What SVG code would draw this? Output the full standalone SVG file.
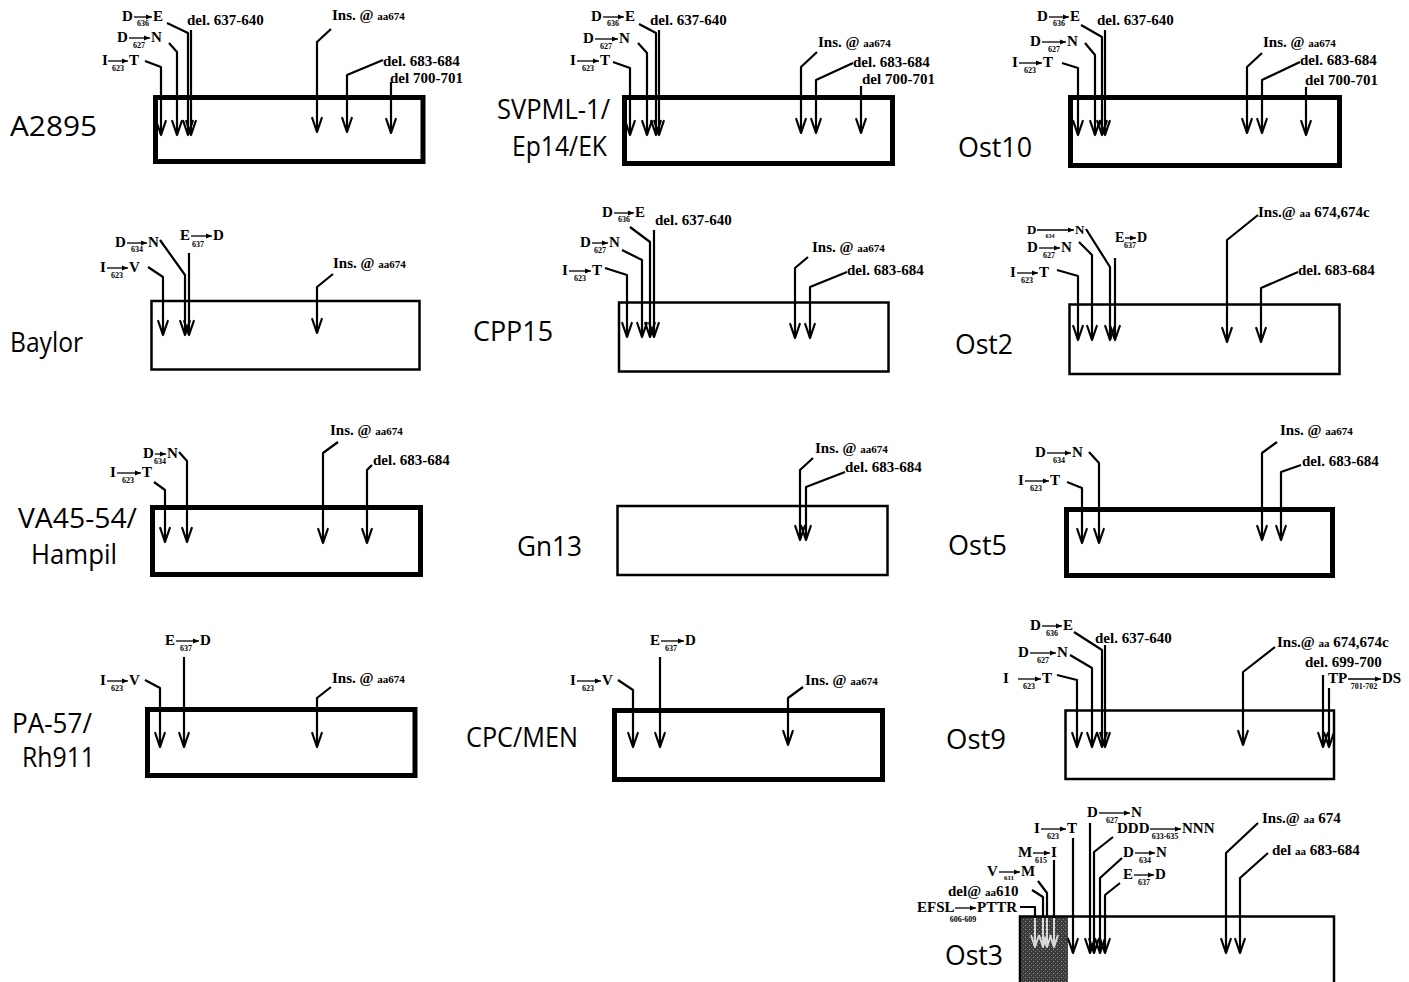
<svg xmlns="http://www.w3.org/2000/svg" width="1409" height="982" viewBox="0 0 1409 982">
<style>
text{font-family:"Liberation Serif","Times New Roman",serif;font-weight:bold;font-size:15px;fill:#000}
.s{font-size:8px;text-anchor:middle}
.sm{font-size:11px}
.lab{font-family:"Open Sans","DejaVu Sans",sans-serif;font-weight:normal;font-size:28px}
.bx{fill:none;stroke:#000}
.tk{stroke-width:5}
.tn{stroke-width:2.5}
.c{fill:none;stroke:#000;stroke-width:2.2;stroke-linejoin:round;marker-end:url(#ah)}
.cl{fill:none;stroke:#d8d8d8;stroke-width:2;marker-end:url(#ahl)}
.cb{fill:none;stroke:#000;stroke-width:2.2;stroke-linejoin:round}
.sa{fill:none;stroke:#000;stroke-width:1.3;marker-end:url(#sa)}
</style>
<defs>
<marker id="ah" markerUnits="userSpaceOnUse" markerWidth="18" markerHeight="14" viewBox="-16 -7 18 14" refX="0" refY="0" orient="auto"><path d="M-14,-4.8 L0,0 L-14,4.8" fill="none" stroke="#000" stroke-width="2.2" stroke-linejoin="round" stroke-linecap="round"/></marker>
<marker id="ahl" markerUnits="userSpaceOnUse" markerWidth="18" markerHeight="14" viewBox="-16 -7 18 14" refX="0" refY="0" orient="auto"><path d="M-12,-4 L0,0 L-12,4" fill="none" stroke="#d8d8d8" stroke-width="2" stroke-linejoin="round"/></marker>
<marker id="sa" markerUnits="userSpaceOnUse" markerWidth="8" markerHeight="6" viewBox="0 -3 6 6" refX="6" refY="0" orient="auto"><path d="M0,-2.5 L6,0 L0,2.5z" fill="#000"/></marker>
<pattern id="stip" width="4" height="4" patternUnits="userSpaceOnUse"><rect width="4" height="4" fill="#3c3c3c"/><rect x="1" y="1" width="1" height="1" fill="#9a9a9a"/><rect x="3" y="3" width="1" height="1" fill="#777"/></pattern>
</defs>
<rect width="1409" height="982" fill="#fff"/>

<g id="A2895">
<rect class="bx tk" x="155.5" y="97.5" width="267.5" height="64"/>
<text class="lab" x="10" y="136" textLength="87" lengthAdjust="spacingAndGlyphs">A2895</text>
<text x="122" y="21">D</text><text class="s" x="143" y="26">636</text><path class="sa" d="M134,17H152"/><text x="153" y="21">E</text>
<text x="117" y="42">D</text><text class="s" x="139" y="48">627</text><path class="sa" d="M129,38H150"/><text x="151" y="42">N</text>
<text x="102" y="65">I</text><text class="s" x="118" y="71">623</text><path class="sa" d="M108,61H128"/><text x="129" y="65">T</text>
<text x="187" y="25">del. 637-640</text>
<text x="332" y="20">Ins. @ <tspan class="sm">aa674</tspan></text>
<text x="383" y="66">del. 683-684</text>
<text x="390" y="83">del 700-701</text>
</g>

<g id="SVPML-1">
<rect class="bx tk" x="624.5" y="97.5" width="268" height="66"/>
<text class="lab" x="497" y="119" style="font-size:27px" textLength="113" lengthAdjust="spacingAndGlyphs">SVPML-1/</text>
<text class="lab" x="512" y="156" style="font-size:27px" textLength="95" lengthAdjust="spacingAndGlyphs">Ep14/EK</text>
<text x="591" y="21">D</text><text class="s" x="613" y="26">636</text><path class="sa" d="M603,17H624"/><text x="625" y="21">E</text>
<text x="583" y="43">D</text><text class="s" x="606" y="49">627</text><path class="sa" d="M595,39H618"/><text x="619" y="43">N</text>
<text x="570" y="65">I</text><text class="s" x="588" y="71">623</text><path class="sa" d="M577,61H599"/><text x="600" y="65">T</text>
<text x="650" y="25">del. 637-640</text>
<text x="818" y="47">Ins. @ <tspan class="sm">aa674</tspan></text>
<text x="853" y="67">del. 683-684</text>
<text x="862" y="84">del 700-701</text>
</g>

<g id="Ost10">
<rect class="bx tk" x="1070.5" y="97.5" width="269" height="68"/>
<text class="lab" x="958" y="157" textLength="74" lengthAdjust="spacingAndGlyphs">Ost10</text>
<text x="1037" y="21">D</text><text class="s" x="1059" y="26">636</text><path class="sa" d="M1049,17H1069"/><text x="1070" y="21">E</text>
<text x="1030" y="46">D</text><text class="s" x="1054" y="52">627</text><path class="sa" d="M1042,42H1066"/><text x="1067" y="46">N</text>
<text x="1012" y="67">I</text><text class="s" x="1030" y="73">623</text><path class="sa" d="M1019,63H1042"/><text x="1043" y="67">T</text>
<text x="1097" y="25">del. 637-640</text>
<text x="1263" y="47">Ins. @ <tspan class="sm">aa674</tspan></text>
<text x="1300" y="65">del. 683-684</text>
<text x="1305" y="85">del 700-701</text>
</g>

<g id="Baylor">
<rect class="bx tn" x="151.5" y="301" width="268" height="68.5"/>
<text class="lab" x="10" y="352" textLength="73" lengthAdjust="spacingAndGlyphs">Baylor</text>
<text x="115" y="247">D</text><text class="s" x="137" y="252">634</text><path class="sa" d="M127,243H147"/><text x="148" y="247">N</text>
<text x="180" y="240">E</text><text class="s" x="198" y="247">637</text><path class="sa" d="M191,236H212"/><text x="213" y="240">D</text>
<text x="100" y="272">I</text><text class="s" x="117" y="278">623</text><path class="sa" d="M107,268H128"/><text x="129" y="272">V</text>
<text x="333" y="268">Ins. @ <tspan class="sm">aa674</tspan></text>
</g>

<g id="CPP15">
<rect class="bx tn" x="619" y="302.5" width="269.5" height="69"/>
<text class="lab" x="473" y="341" textLength="80" lengthAdjust="spacingAndGlyphs">CPP15</text>
<text x="602" y="217">D</text><text class="s" x="624" y="222">636</text><path class="sa" d="M614,213H634"/><text x="635" y="217">E</text>
<text x="580" y="247">D</text><text class="s" x="600" y="253">627</text><path class="sa" d="M592,243H608"/><text x="609" y="247">N</text>
<text x="562" y="275">I</text><text class="s" x="580" y="281">623</text><path class="sa" d="M569,271H591"/><text x="592" y="275">T</text>
<text x="655" y="225">del. 637-640</text>
<text x="812" y="252">Ins. @ <tspan class="sm">aa674</tspan></text>
<text x="847" y="275">del. 683-684</text>
</g>

<g id="Ost2">
<rect class="bx tn" x="1069.5" y="304.5" width="270" height="69.5"/>
<text class="lab" x="955" y="354" textLength="58" lengthAdjust="spacingAndGlyphs">Ost2</text>
<text x="1027" y="234" style="font-size:13px">D</text><text class="s" x="1050" y="238" style="font-size:6px">634</text><path class="sa" d="M1037,230H1074"/><text x="1075" y="234" style="font-size:13px">N</text>
<text x="1027" y="252">D</text><text class="s" x="1049" y="258">627</text><path class="sa" d="M1039,248H1060"/><text x="1061" y="252">N</text>
<text x="1115" y="242" style="font-size:14px">E</text><text class="s" x="1130" y="248">637</text><path class="sa" d="M1125,238H1136"/><text x="1137" y="242" style="font-size:14px">D</text>
<text x="1010" y="277">I</text><text class="s" x="1027" y="283">623</text><path class="sa" d="M1017,273H1038"/><text x="1039" y="277">T</text>
<text x="1258" y="217">Ins.@ <tspan class="sm">aa</tspan> 674,674c</text>
<text x="1298" y="275">del. 683-684</text>
</g>

<g id="VA45-54">
<rect class="bx tk" x="152.5" y="507.5" width="268" height="67"/>
<text class="lab" x="18" y="528" style="font-size:27px" textLength="119" lengthAdjust="spacingAndGlyphs">VA45-54/</text>
<text class="lab" x="31" y="564" style="font-size:27px" textLength="86" lengthAdjust="spacingAndGlyphs">Hampil</text>
<text x="143" y="458">D</text><text class="s" x="160" y="464">634</text><path class="sa" d="M155,454H166"/><text x="167" y="458">N</text>
<text x="110" y="477">I</text><text class="s" x="128" y="483">623</text><path class="sa" d="M117,473H141"/><text x="142" y="477">T</text>
<text x="330" y="435">Ins. @ <tspan class="sm">aa674</tspan></text>
<text x="373" y="465">del. 683-684</text>
</g>

<g id="Gn13">
<rect class="bx tn" x="617.5" y="506" width="270" height="69"/>
<text class="lab" x="517" y="556" textLength="65" lengthAdjust="spacingAndGlyphs">Gn13</text>
<text x="815" y="453">Ins. @ <tspan class="sm">aa674</tspan></text>
<text x="845" y="472">del. 683-684</text>
</g>

<g id="Ost5">
<rect class="bx tk" x="1066.5" y="509.5" width="266" height="66"/>
<text class="lab" x="948" y="555" textLength="59" lengthAdjust="spacingAndGlyphs">Ost5</text>
<text x="1035" y="457">D</text><text class="s" x="1059" y="463">634</text><path class="sa" d="M1047,453H1071"/><text x="1072" y="457">N</text>
<text x="1018" y="485">I</text><text class="s" x="1036" y="491">623</text><path class="sa" d="M1025,481H1049"/><text x="1050" y="485">T</text>
<text x="1280" y="435">Ins. @ <tspan class="sm">aa674</tspan></text>
<text x="1302" y="466">del. 683-684</text>
</g>

<g id="PA-57">
<rect class="bx tk" x="147.5" y="709.5" width="267.5" height="66"/>
<text class="lab" x="12" y="733" textLength="80" lengthAdjust="spacingAndGlyphs">PA-57/</text>
<text class="lab" x="22" y="767" textLength="73" lengthAdjust="spacingAndGlyphs">Rh911</text>
<text x="165" y="645">E</text><text class="s" x="186" y="651">637</text><path class="sa" d="M176,641H199"/><text x="200" y="645">D</text>
<text x="100" y="685">I</text><text class="s" x="117" y="691">623</text><path class="sa" d="M107,681H128"/><text x="129" y="685">V</text>
<text x="332" y="683">Ins. @ <tspan class="sm">aa674</tspan></text>
</g>

<g id="CPC-MEN">
<rect class="bx tk" x="614.5" y="710.5" width="268" height="69"/>
<text class="lab" x="466" y="747" textLength="112" lengthAdjust="spacingAndGlyphs">CPC/MEN</text>
<text x="650" y="645">E</text><text class="s" x="671" y="651">637</text><path class="sa" d="M661,641H684"/><text x="685" y="645">D</text>
<text x="570" y="685">I</text><text class="s" x="588" y="691">623</text><path class="sa" d="M577,681H601"/><text x="602" y="685">V</text>
<text x="805" y="685">Ins. @ <tspan class="sm">aa674</tspan></text>
</g>

<g id="Ost9">
<rect class="bx tn" x="1065.5" y="710.5" width="268.5" height="68.5"/>
<text class="lab" x="946" y="749" textLength="60" lengthAdjust="spacingAndGlyphs">Ost9</text>
<text x="1030" y="630">D</text><text class="s" x="1052" y="636">636</text><path class="sa" d="M1042,626H1062"/><text x="1063" y="630">E</text>
<text x="1018" y="657">D</text><text class="s" x="1043" y="663">627</text><path class="sa" d="M1030,653H1056"/><text x="1057" y="657">N</text>
<text x="1003" y="683">I</text><text class="s" x="1029" y="689">623</text><path class="sa" d="M1018,679H1041"/><text x="1042" y="683">T</text>
<text x="1095" y="643">del. 637-640</text>
<text x="1277" y="647">Ins.@ <tspan class="sm">aa</tspan> 674,674c</text>
<text x="1305" y="667">del. 699-700</text>
<text x="1328" y="683">TP</text><text class="s" x="1364" y="689">701-702</text><path class="sa" d="M1348,679H1381"/><text x="1382" y="683">DS</text>
</g>

<g id="Ost3">
<rect x="1020" y="916" width="48" height="70" fill="url(#stip)"/>
<path class="bx tn" d="M1020,990V916.5H1334V990"/>
<text class="lab" x="945" y="965" textLength="58" lengthAdjust="spacingAndGlyphs">Ost3</text>
<text x="1087" y="817">D</text><text class="s" x="1112" y="823">627</text><path class="sa" d="M1099,813H1130"/><text x="1131" y="817">N</text>
<text x="1034" y="833">I</text><text class="s" x="1053" y="839">623</text><path class="sa" d="M1041,829H1066"/><text x="1067" y="833">T</text>
<text x="1117" y="833">DDD</text><text class="s" x="1165" y="839">633-635</text><path class="sa" d="M1150,829H1181"/><text x="1182" y="833">NNN</text>
<text x="1123" y="857">D</text><text class="s" x="1145" y="863">634</text><path class="sa" d="M1135,853H1155"/><text x="1156" y="857">N</text>
<text x="1123" y="879">E</text><text class="s" x="1144" y="885">637</text><path class="sa" d="M1134,875H1154"/><text x="1155" y="879">D</text>
<text x="1018" y="857">M</text><text class="s" x="1041" y="863">615</text><path class="sa" d="M1033,853H1050"/><text x="1051" y="857">I</text>
<text x="987" y="876">V</text><text class="s" x="1009" y="880" style="font-size:7px">611</text><path class="sa" d="M999,872H1020"/><text x="1021" y="876">M</text>
<text x="948" y="896">del@ <tspan class="sm">aa</tspan>610</text>
<text x="917" y="912">EFSL</text><text class="s" x="963" y="922">606-609</text><path class="sa" d="M955,908H976"/><text x="977" y="912">PTTR</text>
<text x="1262" y="823">Ins.@ <tspan class="sm">aa</tspan> 674</text>
<text x="1272" y="855">del <tspan class="sm">aa</tspan> 683-684</text>
</g>

<g id="connectors">
<path class="c" d="M145,61L161,67V135"/>
<path class="c" d="M169,43L177,52V135"/>
<path class="c" d="M167,23L188,33V135"/>
<path class="c" d="M191,30V135"/>
<path class="c" d="M331,29L317,42V132"/>
<path class="c" d="M383,60L347,75V132"/>
<path class="c" d="M391,82V133"/>

<path class="c" d="M613,62L630,68V135"/>
<path class="c" d="M638,43L647,53V135"/>
<path class="c" d="M639,24L656,33V135"/>
<path class="c" d="M659,30V135"/>
<path class="c" d="M817,52L801,67V133"/>
<path class="c" d="M853,63L816,80V133"/>
<path class="c" d="M861,86V133"/>

<path class="c" d="M1062,63L1078,68V135"/>
<path class="c" d="M1085,43L1095,55V135"/>
<path class="c" d="M1081,25L1102,37V135"/>
<path class="c" d="M1105,30V135"/>
<path class="c" d="M1262,53L1247,67V133"/>
<path class="c" d="M1300,62L1262,80V133"/>
<path class="c" d="M1306,87V135"/>

<path class="c" d="M148,267L163,277V335"/>
<path class="c" d="M160,240L185,275V335"/>
<path class="c" d="M189,253V335"/>
<path class="c" d="M333,274L317,287V333"/>

<path class="c" d="M605,268L627,275V337"/>
<path class="c" d="M622,250L642,260V337"/>
<path class="c" d="M630,227L650,242V337"/>
<path class="c" d="M654,230V337"/>
<path class="c" d="M808,257L795,268V338"/>
<path class="c" d="M847,272L810,287V338"/>

<path class="c" d="M1057,270L1078,276V340"/>
<path class="c" d="M1079,242L1092,255V340"/>
<path class="c" d="M1086,229L1110,267V340"/>
<path class="c" d="M1115,258V340"/>
<path class="c" d="M1258,215L1227,240V342"/>
<path class="c" d="M1298,272L1261,288V342"/>

<path class="c" d="M154,482L165,490V542"/>
<path class="c" d="M179,452L187,461V542"/>
<path class="c" d="M338,442L323,453V543"/>
<path class="c" d="M372,465L367,470V543"/>

<path class="c" d="M813,458L800,470V540"/>
<path class="c" d="M845,472L806,487V540"/>

<path class="c" d="M1067,482L1082,488V543"/>
<path class="c" d="M1089,452L1099,463V543"/>
<path class="c" d="M1277,442L1262,453V540"/>
<path class="c" d="M1301,465L1281,472V540"/>

<path class="c" d="M184,657V747"/>
<path class="c" d="M145,680L160,688V747"/>
<path class="c" d="M331,687L317,698V747"/>

<path class="c" d="M660,657V747"/>
<path class="c" d="M618,680L633,690V747"/>
<path class="c" d="M803,687L788,698V745"/>

<path class="c" d="M1057,675L1077,680V747"/>
<path class="c" d="M1070,655L1092,668V747"/>
<path class="c" d="M1074,632L1102,650V747"/>
<path class="c" d="M1105,645V747"/>
<path class="c" d="M1275,647L1243,672V745"/>
<path class="c" d="M1323,675V747"/>
<path class="c" d="M1329,688V747"/>

<path class="c" d="M1090,823V953"/>
<path class="c" d="M1073,838V953"/>
<path class="c" d="M1113,837L1094,852V953"/>
<path class="c" d="M1122,858L1100,878V953"/>
<path class="c" d="M1120,883L1105,895V953"/>
<path class="c" d="M1258,823L1226,853V953"/>
<path class="c" d="M1268,853L1240,878V953"/>
<path class="cb" d="M1054,860V918"/>
<path class="cb" d="M1038,881L1047,893V918"/>
<path class="cb" d="M1032,890L1043,897V918"/>
<path class="cb" d="M1020,907H1035V918"/>
<path class="cl" d="M1054,918V947"/>
<path class="cl" d="M1047,918V947"/>
<path class="cl" d="M1043,918V947"/>
<path class="cl" d="M1035,918V947"/>
</g>
</svg>
